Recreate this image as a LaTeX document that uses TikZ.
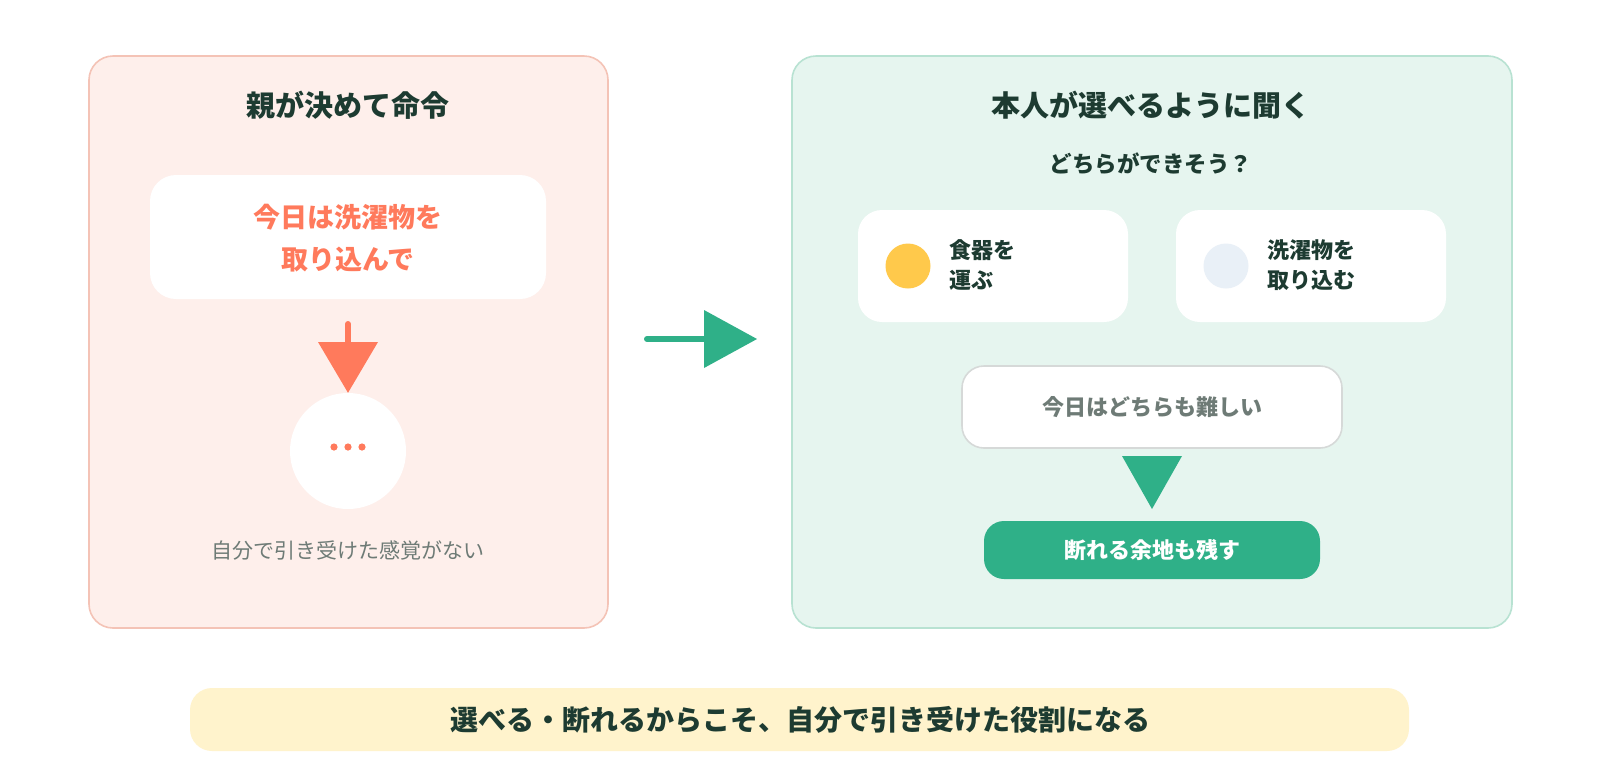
\documentclass[tikz,border=0pt]{standalone}
\usepackage{fontspec}
\setmainfont{Noto Sans CJK JP}
\definecolor{leftfill}{HTML}{FEEFEB}
\definecolor{leftborder}{HTML}{F4C3B6}
\definecolor{rightfill}{HTML}{E6F5EF}
\definecolor{rightborder}{HTML}{B8E2D2}
\definecolor{mygreen}{HTML}{2FB088}
\definecolor{coral}{HTML}{FF7A5C}
\definecolor{darktext}{HTML}{1D3B31}
\definecolor{graytext}{HTML}{6E7B76}
\definecolor{lightcirc}{HTML}{E9F0F7}
\definecolor{yellowc}{HTML}{FFC94B}
\definecolor{bannerfill}{HTML}{FFF3CC}
\definecolor{grayborder}{HTML}{D6D9D8}
\tikzset{
  panel/.style={rounded corners=24pt, line width=1.6pt},
  card/.style={rounded corners=24pt, fill=white, draw=none},
  ttl/.style={font=\fontsize{29}{34}\selectfont\bfseries, text=darktext},
  opttext/.style={font=\fontsize{22}{30}\selectfont\bfseries, text=darktext, align=left, anchor=west},
}
\begin{document}
\begin{tikzpicture}[x=1pt,y=-1pt]
\useasboundingbox (0,0) rectangle (1600,780);
\fill[white] (0,0) rectangle (1600,780);
% left panel
\draw[panel, fill=leftfill, draw=leftborder] (89,56) rectangle (608,628);
\node[ttl] (ltitle) at (348,105) {親が決めて命令};
\fill[card, rounded corners=26pt] (150,175) rectangle (546,299);
\node[font=\fontsize{27}{42}\selectfont\bfseries, text=coral, align=center] (order) at (348,238) {今日は洗濯物を\\取り込んで};
\coordinate (ordbot) at (348,324);
\node[circle, fill=white, minimum size=116pt, inner sep=0pt] (silent) at (348,451) {};
\draw[coral, line width=6pt, line cap=round] (ordbot) -- (348,344);
\fill[coral] (318,342) -- (378,342) -- (silent.north) -- cycle;
\foreach \dx in {-14,0,14} \fill[coral] (348+\dx,447) circle (3.6pt);
\node[font=\fontsize{21}{24}\selectfont, text=graytext] (feel) at (348,550) {自分で引き受けた感覚がない};
% middle arrow
\coordinate (ma) at (647,339);
\coordinate (mb) at (757,339);
\draw[mygreen, line width=6pt, line cap=round] (ma) -- (706,339);
\fill[mygreen] (704,310) -- (704,368) -- (mb) -- cycle;
% right panel
\draw[panel, fill=rightfill, draw=rightborder] (792,56) rectangle (1512,628);
\node[ttl] (rtitle) at (1151,105) {本人が選べるように聞く};
\node[font=\fontsize{22.5}{26}\selectfont\bfseries, text=darktext] (q) at (1151,164) {どちらができそう？};
\fill[card] (858,210) rectangle (1128,322);
\fill[card] (1176,210) rectangle (1446,322);
\node[circle, fill=yellowc, minimum size=45pt, inner sep=0pt] (c1) at (908,266) {};
\node[circle, fill=lightcirc, minimum size=45pt, inner sep=0pt] (c2) at (1226,266) {};
\node[opttext] (o1) at (946,265) {食器を\\運ぶ};
\node[opttext] (o2) at (1264,265) {洗濯物を\\取り込む};
\node[draw=grayborder, line width=1.6pt, fill=white, rounded corners=22pt, minimum width=380pt, minimum height=82pt] (hard) at (1152,407) {};
\node[font=\fontsize{22}{26}\selectfont\bfseries, text=graytext] at (hard.center) {今日はどちらも難しい};
\node[fill=mygreen, rounded corners=20pt, minimum width=336pt, minimum height=58pt] (refuse) at (1152,550) {};
\node[font=\fontsize{22}{26}\selectfont\bfseries, text=white] at (refuse.center) {断れる余地も残す};
\fill[mygreen] (1122,456) -- (1182,456) -- (1152,509) -- cycle;
% banner
\fill[bannerfill, rounded corners=22pt] (190,688) rectangle (1409,751);
\node[font=\fontsize{28}{32}\selectfont\bfseries, text=darktext] (msg) at (800,720) {選べる・断れるからこそ、自分で引き受けた役割になる};
\end{tikzpicture}
\end{document}
